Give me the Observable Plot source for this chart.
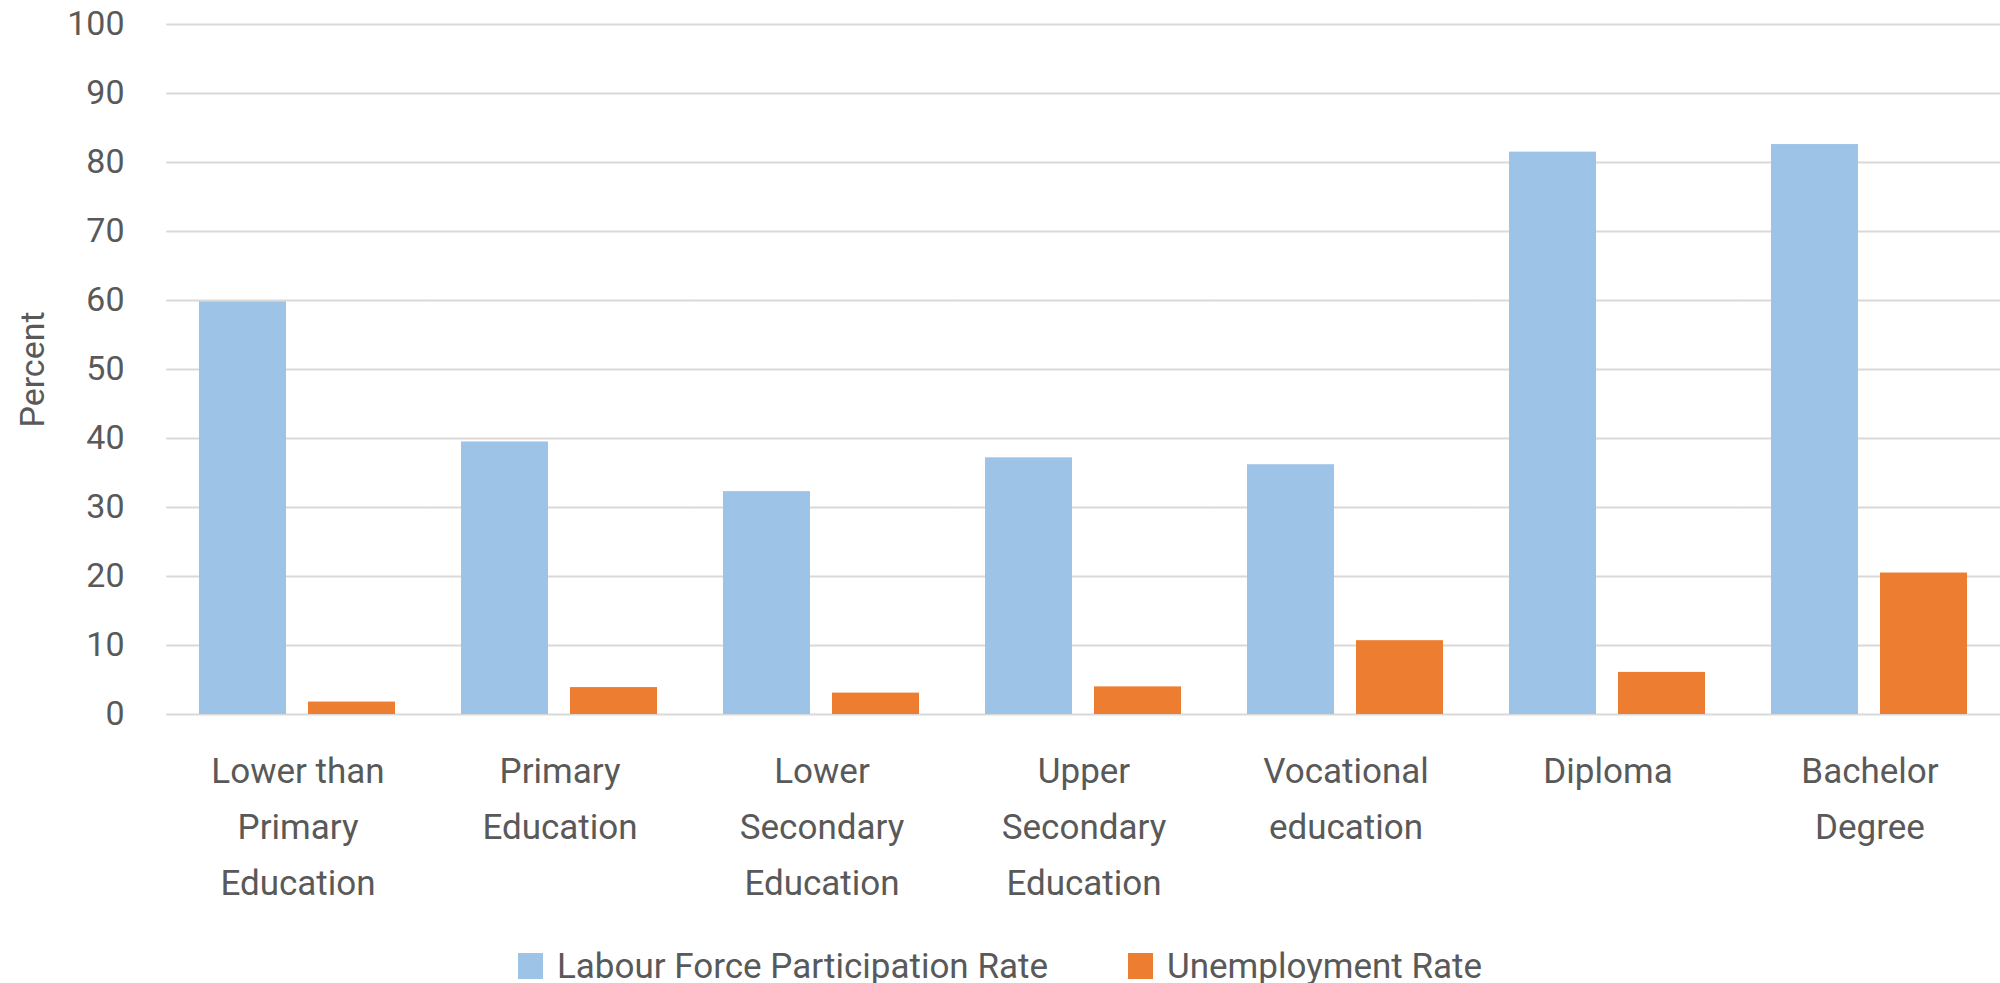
<!DOCTYPE html>
<html>
<head>
<meta charset="utf-8">
<script src="https://cdn.jsdelivr.net/npm/d3@7"></script>
<script src="https://cdn.jsdelivr.net/npm/@observablehq/plot@0.6"></script>
<style>
  html, body { margin: 0; padding: 0; background: #fff; }
  body { width: 2000px; height: 983px; overflow: hidden; font-family: Roboto, "Noto Sans", sans-serif; }
  #legend { display: flex; justify-content: center; align-items: center; height: 72px; color: #595959; font-size: 35px; }
  .item { display: flex; align-items: center; }
  .sw { width: 25px; height: 26px; margin-right: 14px; }
  .item + .item { margin-left: 80px; }
</style>
</head>
<body>
<div id="chart"></div>
<div id="legend"></div>
<script>
const categories = [
  "Lower than\nPrimary\nEducation",
  "Primary\nEducation",
  "Lower\nSecondary\nEducation",
  "Upper\nSecondary\nEducation",
  "Vocational\neducation",
  "Diploma",
  "Bachelor\nDegree"
];
const seriesNames = ["Labour Force Participation Rate", "Unemployment Rate"];
const participation = [59.8, 39.5, 32.3, 37.2, 36.2, 81.5, 82.6];
const unemployment = [1.8, 3.9, 3.1, 4.0, 10.7, 6.1, 20.5];
const seriesColors = ["#9DC3E6", "#ED7D31"];
const yTicks = [0, 10, 20, 30, 40, 50, 60, 70, 80, 90, 100];

const data = [];
categories.forEach((c, i) => {
  data.push({category: c, series: seriesNames[0], value: participation[i]});
  data.push({category: c, series: seriesNames[1], value: unemployment[i]});
});

const chart = Plot.plot({
  width: 2000,
  height: 930,
  marginTop: 24,
  marginBottom: 216,
  marginLeft: 166,
  marginRight: 0,
  style: {fontFamily: "Roboto, 'Noto Sans', sans-serif", color: "#595959", background: "#fff"},
  fx: {domain: categories, paddingInner: 0.25, paddingOuter: 0.125, label: null},
  x: {domain: seriesNames, paddingInner: 0.2, paddingOuter: 0, axis: null},
  y: {domain: [0, 100], label: null},
  color: {domain: seriesNames, range: seriesColors},
  marks: [
    Plot.ruleY(yTicks, {stroke: "#D9D9D9", strokeWidth: 2, insetLeft: -32.75, insetRight: -32.75}),
    Plot.barY(data, {fx: "category", x: "series", y: "value", fill: "series"}),
    Plot.axisY({ticks: yTicks, tickSize: 0, tickPadding: 75, fontSize: 34, fill: "#595959",
      label: "Percent", labelAnchor: "center", labelOffset: 180, labelArrow: false}),
    Plot.axisFx({anchor: "bottom", tickSize: 0, tickPadding: 29, fontSize: 35, lineHeight: 1.6, fill: "#595959", label: null})
  ]
});
document.getElementById("chart").appendChild(chart);

const legend = document.getElementById("legend");
seriesNames.forEach((name, i) => {
  const item = document.createElement("div");
  item.className = "item";
  const sw = document.createElement("div");
  sw.className = "sw";
  sw.style.background = seriesColors[i];
  const t = document.createElement("span");
  t.textContent = name;
  item.appendChild(sw);
  item.appendChild(t);
  legend.appendChild(item);
});
</script>
</body>
</html>
